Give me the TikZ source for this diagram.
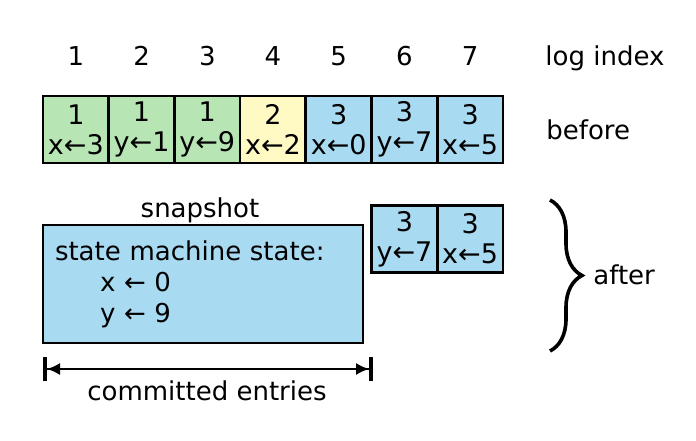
\documentclass[tikz,border=0pt]{standalone}
\usepackage{fontspec}
\setmainfont{DejaVu Sans}
\usetikzlibrary{arrows.meta,decorations.pathreplacing,positioning}
\definecolor{entgreen}{RGB}{183,230,180}
\definecolor{entyellow}{RGB}{255,249,196}
\definecolor{entblue}{RGB}{168,218,242}

\begin{document}
\begin{tikzpicture}[x=0.5pt,y=-0.5pt]
			\tikzstyle{Entry}	= [draw, line width=1.3pt, minimum width=32.8pt, minimum height=33.5pt, inner sep=0pt, align=center, font=\fontsize{13.5}{15}\selectfont]
			\tikzstyle{Snap}	= [draw, line width=1.3pt, fill=entblue, text width=148pt, minimum height=59pt, inner xsep=6pt, inner ysep=0pt, align=left, font=\fontsize{13}{15.5}\selectfont]
			\tikzstyle{Label}	= [anchor=base, inner sep=0pt, font=\fontsize{13}{15}\selectfont]
			\tikzstyle{Span}	= [line width=0.8pt, {Bar[width=12pt,line width=2pt]Latex[length=6.5pt,width=6pt]}-{Latex[length=6.5pt,width=6pt]Bar[width=12pt,line width=2pt]}]

			\useasboundingbox (0,0) rectangle (696,440);

			% log before compaction
			\foreach \i/\t/\v/\c in {1/1/x←3/entgreen, 2/1/y←1/entgreen, 3/1/y←9/entgreen, 4/2/x←2/entyellow, 5/3/x←0/entblue, 6/3/y←7/entblue, 7/3/x←5/entblue}
			{
				\node (i\i) at ({43+65.71*(\i-0.5)}, 65) [Label] {\i};
				\node (e\i) at ({43+65.71*(\i-0.5)}, 129.5) [Entry, fill=\c] {\t\\\v};
			}
			\node (idx) at (545, 65) [Label, anchor=base west] {log index};
			\node (before) at (546, 139) [Label, anchor=base west] {before};

			% log after compaction
			\node (snap) at (203, 284) [Snap] {state machine state:\\\hspace*{22.5pt}x ← 0\\\hspace*{22.5pt}y ← 9};
			\node (snaplbl) at (200, 217) [Label] {snapshot};
			\foreach \i/\t/\v in {6/3/y←7, 7/3/x←5}
				\node (a\i) at ({43+65.71*(\i-0.5)}, 239) [Entry, fill=entblue] {\t\\\v};

			\coordinate (bt) at (550, 200);
			\coordinate (bb) at (550, 351);
			\draw [decorate, decoration={brace, amplitude=16pt}, line width=1.8pt] (bt) -- (bb);
			\node (after) at (593, 284) [Label, anchor=base west] {after};

			\coordinate (cl) at (43, 369);
			\coordinate (cr) at (373, 369);
			\draw [Span] (cl) -- (cr);
			\node (comm) at (207, 400) [Label] {committed entries};
		\end{tikzpicture}
\end{document}
